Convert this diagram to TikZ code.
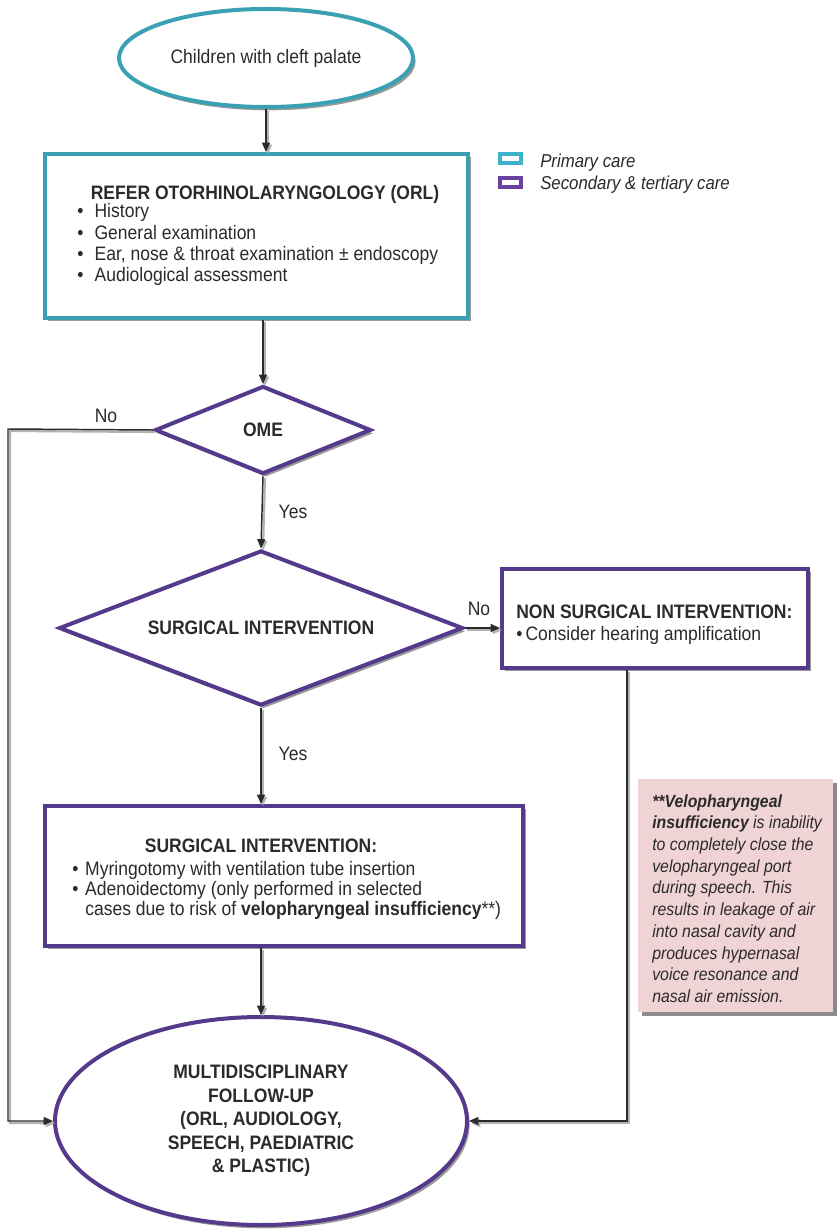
\documentclass[tikz,border=0pt]{standalone}
\usepackage{fontspec}
\setmainfont{Liberation Sans}[FakeStretch=0.9]
\usetikzlibrary{shapes.geometric,shadows,arrows.meta}
\definecolor{tealc}{HTML}{3AA0B4}
\definecolor{purp}{HTML}{553A8C}
\definecolor{legteal}{HTML}{3DB3CA}
\definecolor{legpurp}{HTML}{6A40A0}
\definecolor{notepink}{HTML}{F0D3D4}
\definecolor{ink}{HTML}{2B2B2B}
\newcommand{\bulA}{\makebox[13pt][l]{•}}
\newcommand{\bulB}{\makebox[9.75pt][l]{•}}
\newcommand{\bulC}{\makebox[7pt][l]{•}}
\begin{document}
\begin{tikzpicture}[x=0.75pt,y=-0.75pt,
  shad/.style={drop shadow={shadow xshift=2pt,shadow yshift=-2.5pt,fill=black,opacity=0.4}},
  tealbox/.style={rectangle,draw=tealc,line width=3pt,fill=white,shad,inner sep=0pt},
  purpbox/.style={rectangle,draw=purp,line width=3pt,fill=white,shad,inner sep=0pt},
  tealell/.style={ellipse,draw=tealc,line width=3pt,fill=white,shad,inner sep=0pt,align=center},
  purpell/.style={ellipse,draw=purp,line width=3pt,fill=white,shad,inner sep=0pt,align=center},
  purpdia/.style={diamond,draw=purp,line width=3pt,fill=white,shad,inner sep=0pt},
  legbox/.style={rectangle,line width=3pt,fill=white,inner sep=0pt,minimum width=15.75pt,minimum height=6.75pt},
  notebox/.style={rectangle,fill=notepink,inner sep=0pt,drop shadow={shadow xshift=3pt,shadow yshift=-3pt,fill=black,opacity=0.45}},
  arr/.style={draw=ink,line width=1.1pt,-{Triangle[length=7pt,width=6pt]},
    preaction={draw=black!30,line width=1.6pt,transform canvas={xshift=1.5pt,yshift=-1.5pt}}},
  fnt/.style={font=\fontsize{14.6pt}{16pt}\selectfont,text=ink},
  lab/.style={fnt,inner sep=0pt,anchor=base},
  txt/.style={fnt,inner sep=0pt,anchor=base west},
]
\fill[white] (0,0) rectangle (836,1230);
\useasboundingbox (0,0) rectangle (836,1230);

% start ellipse
\node[tealell,fnt,minimum width=220.5pt,minimum height=73.5pt] (start) at (266,58) {Children with cleft palate};

% ORL box
\node[tealbox,minimum width=317.25pt,minimum height=123pt] (orl) at (256.5,236) {};
\node[lab] (orltitle) at (265,200) {\textbf{REFER OTORHINOLARYNGOLOGY (ORL)}};
\node[txt] (orltxt) at (77,218) {\begin{tabular}[t]{@{}l@{}}
\bulA History\\
\bulA General examination\\
\bulA Ear, nose \& throat examination ± endoscopy\\
\bulA Audiological assessment
\end{tabular}};

% legend
\node[legbox,draw=legteal] (legp) at (510.5,158.5) {};
\node[txt,font=\fontsize{14pt}{16pt}\selectfont\itshape] (legpt) at (540,168) {Primary care};
\node[legbox,draw=legpurp] (legs) at (510.5,182.5) {};
\node[txt,font=\fontsize{14pt}{16pt}\selectfont\itshape] (legst) at (540,190) {Secondary \& tertiary care};

% OME diamond
\node[purpdia,fnt,aspect=2.45,minimum width=162pt,minimum height=66pt] (ome) at (263,430) {\textbf{OME}};

% surgical decision diamond
\node[purpdia,fnt,aspect=2.6,minimum width=303pt,minimum height=116.25pt] (surg) at (261,628) {\textbf{SURGICAL INTERVENTION}};

% non surgical box
\node[purpbox,minimum width=229.5pt,minimum height=74.25pt] (nsi) at (655,618.5) {};
\node[txt] (nsitxt) at (516,618) {\begin{tabular}[t]{@{}l@{}}
\textbf{NON SURGICAL INTERVENTION:}\\[0.5pt]
\bulC Consider hearing amplification
\end{tabular}};

% surgical intervention box
\node[purpbox,minimum width=358.5pt,minimum height=105pt] (sbox) at (284,876) {};
\node[lab] (sboxtitle) at (261,852) {\textbf{SURGICAL INTERVENTION:}};
\node[txt,font=\fontsize{14.6pt}{15pt}\selectfont] (sboxtxt) at (72,875) {\begin{tabular}[t]{@{}l@{}}
\bulB Myringotomy with ventilation tube insertion\\
\bulB Adenoidectomy (only performed in selected\\
\hspace*{9.75pt}cases due to risk of \textbf{velopharyngeal insufficiency}**)
\end{tabular}};

% follow-up ellipse
\node[purpell,font=\fontsize{14.6pt}{17.6pt}\selectfont\bfseries,text=ink,minimum width=309pt,minimum height=156pt] (big) at (261,1121) {MULTIDISCIPLINARY\\FOLLOW-UP\\(ORL, AUDIOLOGY,\\SPEECH, PAEDIATRIC\\\& PLASTIC)};

% note
\node[notebox,minimum width=146.25pt,minimum height=174.75pt] (note) at (735.5,895.5) {};
\node[txt,font=\fontsize{13.2pt}{16.3pt}\selectfont\itshape] (notetxt) at (652,807) {\begin{tabular}[t]{@{}l@{}}
\textbf{**Velopharyngeal}\\
\textbf{insufficiency} is inability\\
to completely close the\\
velopharyngeal port\\
during speech. This\\
results in leakage of air\\
into nasal cavity and\\
produces hypernasal\\
voice resonance and\\
nasal air emission.
\end{tabular}};

% connectors
\coordinate (lft) at (8,429);
\coordinate (rgt) at (627,0);
\draw[arr] (start.south) -- (start.south |- orl.north);
\draw[arr] (ome.north |- orl.south) -- (ome.north);
\draw[arr] (ome.west) -- (lft) |- (big.west);
\draw[arr] (ome.south) -- (surg.north);
\draw[arr] (surg.east) -- (surg.east -| nsi.west);
\draw[arr] (surg.south) -- (surg.south |- sbox.north);
\draw[arr] (rgt |- nsi.south) -- (rgt |- big.east) -- (big.east);
\draw[arr] (big.north |- sbox.south) -- (big.north);

% labels
\node[lab] (no1) at (106,422) {No};
\node[lab] (yes1) at (293,518) {Yes};
\node[lab] (no2) at (479,615) {No};
\node[lab] (yes2) at (293,760) {Yes};
\end{tikzpicture}
\end{document}
